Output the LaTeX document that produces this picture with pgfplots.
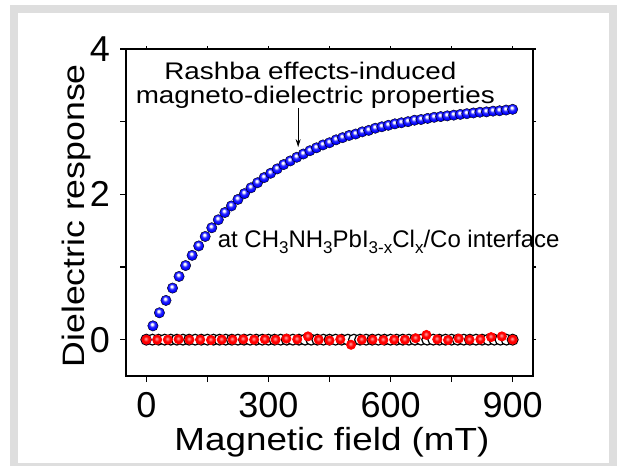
\documentclass[border=0pt]{standalone}
\usepackage{fontspec}
\setmainfont{Liberation Sans}
\usepackage{pgfplots}
\pgfplotsset{compat=1.18}
\usetikzlibrary{arrows.meta}
\definecolor{framegray}{HTML}{DEDEDE}
\pgfdeclareradialshading{bballsh}{\pgfpoint{-5bp}{9bp}}{color(0bp)=(white); color(4bp)=(white); color(13bp)=(blue!85!white); color(22bp)=(blue); color(38bp)=(blue!85!black); color(50bp)=(blue!45!black)}
\pgfdeclareradialshading{rballsh}{\pgfpoint{-4bp}{6bp}}{color(0bp)=(red!40!white); color(5bp)=(red!55!white); color(14bp)=(red); color(36bp)=(red); color(50bp)=(red!60!black)}
\pgfdeclareplotmark{bball}{\shade[shading=bballsh] (0pt,0pt) circle (\pgfplotmarksize);}
\pgfdeclareplotmark{rball}{\shade[shading=rballsh] (0pt,0pt) circle (\pgfplotmarksize);}
\newcommand{\sub}[1]{\raisebox{-0.45ex}{\fontsize{17}{17}\selectfont #1}}
\begin{document}
\begin{tikzpicture}
\path[use as bounding box] (0,0) rectangle (617pt,466pt);
\fill[white] (0,0) rectangle (617pt,466pt);
\fill[framegray] (10pt,0pt) rectangle (617pt,461pt);
\fill[white] (18pt,3pt) rectangle (609pt,453pt);
% right and top short ticks
\begin{axis}[
  at={(126pt,90pt)}, anchor=south west,
  scale only axis, width=407pt, height=327pt,
  xmin=-50, xmax=950, ymin=-0.5, ymax=4,
  xtick={0,300,600,900}, ytick={0,2,4},
  minor xtick={150,450,750}, minor ytick={1,3},
  tick align=outside, xtick pos=right, ytick pos=right,
  major tick length=3pt, minor tick length=3pt,
  axis line style={draw=none},
  every tick/.style={line width=1.2pt, black},
  xticklabels={}, yticklabels={},
]
\end{axis}
\begin{axis}[
  at={(126pt,90pt)}, anchor=south west,
  scale only axis, width=407pt, height=327pt,
  xmin=-50, xmax=950, ymin=-0.5, ymax=4,
  xtick={0,300,600,900}, ytick={0,2,4},
  minor xtick={150,450,750}, minor ytick={1,3},
  tick align=outside, tick pos=left,
  major tick length=6pt, minor tick length=6pt,
  axis line style={line width=1.2pt},
  every tick/.style={line width=1.2pt, black},
  /pgf/number format/assume math mode=true,
  ticklabel style={font=\fontsize{36}{40}\selectfont, inner sep=0pt},
  xticklabel style={yshift=-10pt},
  yticklabel style={xshift=-10pt},
  xlabel={\scalebox{1.15}[1]{Magnetic field (mT)}},
  ylabel={\scalebox{1.15}[1]{Dielectric response}},
  xlabel style={font=\fontsize{32}{34}\selectfont, inner sep=0pt, at={(axis description cs:0.506,0)}, anchor=base, yshift=-74pt},
  ylabel style={font=\fontsize{31}{34}\selectfont, inner sep=0pt, at={(axis description cs:-0.103,0.49)}, anchor=base},
  clip=false,
]
% black hollow circles
\addplot[only marks, mark=*, mark size=5.4pt, mark options={draw=black, fill=white, line width=1.2pt}]
coordinates {
(0,0)(15,0)(30,0)(45,0)(60,0)(75,0)(90,0)(105,0)(120,0)(135,0)
(150,0)(165,0)(180,0)(195,0)(210,0)(225,0)(240,0)(255,0)(270,0)(285,0)
(300,0)(315,0)(330,0)(345,0)(360,0)(375,0)(390,0)(405,0)(420,0)(435,0)
(450,0)(465,0)(480,0)(495,0)(510,0)(525,0)(540,0)(555,0)(570,0)(585,0)
(600,0)(615,0)(630,0)(645,0)(660,0)(675,0)(690,0)(705,0)(720,0)(735,0)
(750,0)(765,0)(780,0)(795,0)(810,0)(825,0)(840,0)(855,0)(870,0)(885,0)
(900,0)
};
% blue balls
\addplot[only marks, mark=bball, mark size=5.2pt]
coordinates {
(0,0)(16.1,0.19)(32.1,0.37)(48.2,0.54)(64.3,0.71)(80.4,0.87)(96.4,1.02)(112.5,1.16)
(128.6,1.29)(144.6,1.42)(160.7,1.54)(176.8,1.65)(192.9,1.75)(208.9,1.84)(225.0,1.93)
(241.1,2.01)(257.1,2.09)(273.2,2.16)(289.3,2.23)(305.4,2.29)(321.4,2.35)(337.5,2.41)
(353.6,2.46)(369.6,2.51)(385.7,2.555)(401.8,2.60)(417.9,2.64)(433.9,2.68)(450.0,2.71)
(466.1,2.75)(482.1,2.78)(498.2,2.81)(514.3,2.83)(530.4,2.86)(546.4,2.88)(562.5,2.91)
(578.6,2.93)(594.6,2.95)(610.7,2.97)(626.8,2.985)(642.9,3.00)(658.9,3.02)(675.0,3.03)
(691.1,3.045)(707.1,3.06)(723.2,3.07)(739.3,3.08)(755.4,3.09)(771.4,3.10)(787.5,3.11)
(803.6,3.12)(819.6,3.13)(835.7,3.135)(851.8,3.145)(867.9,3.15)(883.9,3.16)(900.0,3.17)
};
% red balls with line
\addplot[red, line width=1pt, mark=rball, mark size=4.5pt]
coordinates {
(0,0)(26.5,0)(52.9,0)(79.4,0.005)(105.9,0)(132.4,0)(158.8,-0.005)(185.3,0)
(211.8,0)(238.2,0.005)(264.7,0)(291.2,0.005)(317.6,0)(344.1,0.015)(370.6,0.005)
(397.1,0.045)(423.5,0)(450.0,-0.01)(476.5,0.005)(502.9,-0.07)(529.4,0)(555.9,0)
(582.4,-0.005)(608.8,0)(635.3,0)(661.8,0.02)(688.2,0.065)(714.7,0.005)(741.2,-0.005)
(767.6,0.015)(794.1,0)(820.6,0.005)(847.1,0.035)(873.5,0.045)(900,0)
};
\node[anchor=base, inner sep=0pt, font=\fontsize{24}{24}\selectfont] at (axis cs:403,3.585) {\scalebox{1.16}[1]{Rashba effects-induced}};
\node[anchor=base, inner sep=0pt, font=\fontsize{24}{24}\selectfont] at (axis cs:415,3.255) {\scalebox{1.16}[1]{magneto-dielectric properties}};
\draw[-{Stealth[length=8pt,width=5pt]}, line width=1pt] (axis cs:373,3.19) -- (axis cs:373,2.65);
\node[anchor=base west, inner sep=0pt, font=\fontsize{24}{24}\selectfont] at (axis cs:175,1.27)
 {at CH\sub{3}NH\sub{3}PbI\sub{3-x}Cl\sub{x}/Co interface};
\end{axis}
\end{tikzpicture}
\end{document}
